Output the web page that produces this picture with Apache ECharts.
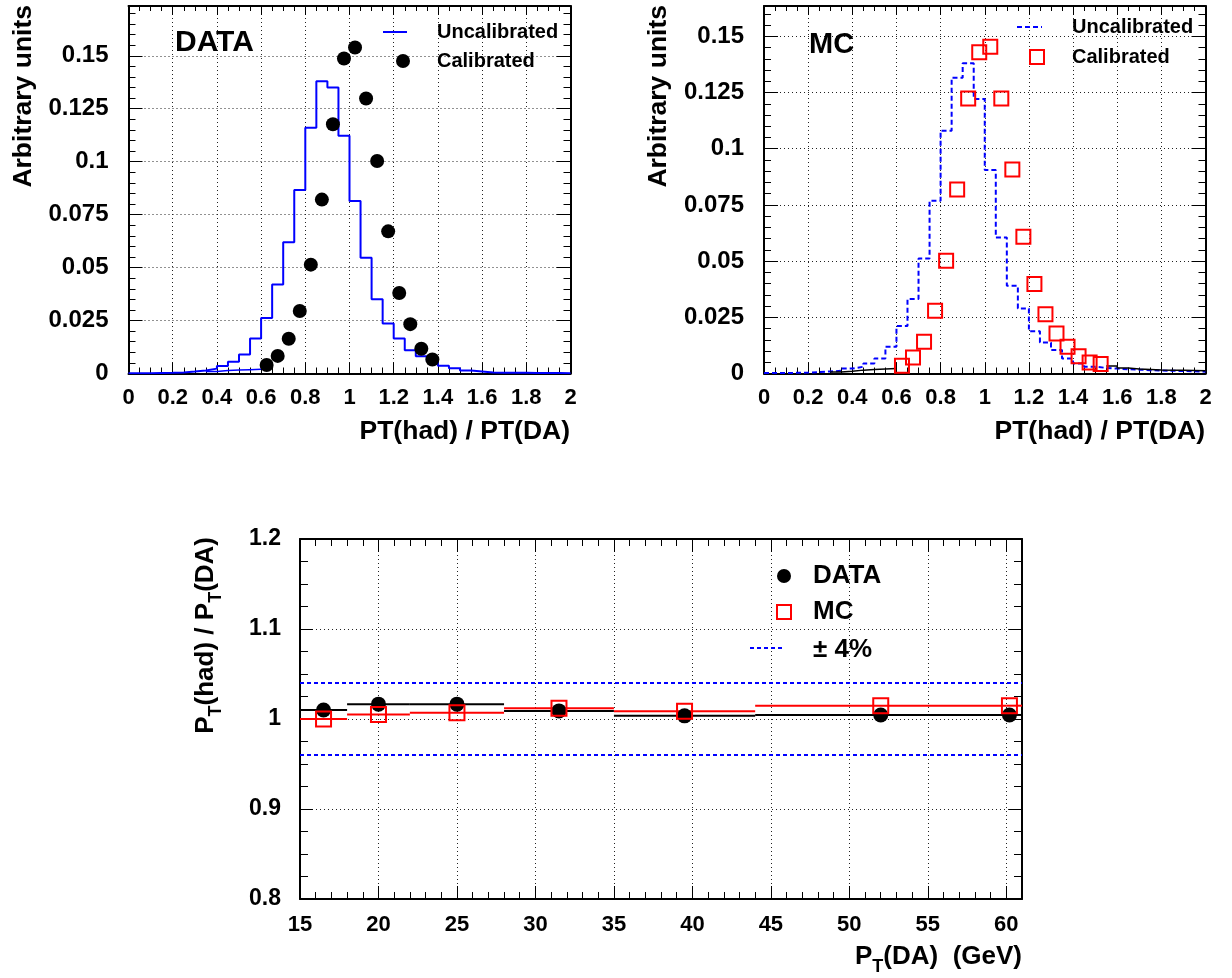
<!DOCTYPE html>
<html><head><meta charset="utf-8">
<script src="https://cdn.jsdelivr.net/npm/echarts@6/dist/echarts.min.js"></script>
<style>html,body{margin:0;padding:0;background:#fff}#c{width:1232px;height:978px}</style>
</head><body><div id="c"></div>
<script>
const FF = "'Liberation Sans', Arial, Helvetica, sans-serif";

// ---------- top panels: histogram bins (PT(had)/PT(DA), width 0.05) ----------
const binEdges = [0,0.05,0.1,0.15,0.2,0.25,0.3,0.35,0.4,0.45,0.5,0.55,0.6,0.65,0.7,0.75,0.8,0.85,0.9,0.95,
  1.0,1.05,1.1,1.15,1.2,1.25,1.3,1.35,1.4,1.45,1.5,1.55,1.6,1.65,1.7,1.75,1.8,1.85,1.9,1.95,2.0];

const dataUncal = [0.0001,0.0001,0.0002,0.0003,0.0005,0.0009,0.0014,0.0023,0.0035,0.0055,
  0.0090,0.0165,0.0262,0.0420,0.0620,0.0866,0.1160,0.1380,0.1350,0.1123,
  0.0814,0.0547,0.0350,0.0236,0.0165,0.0110,0.0082,0.0058,0.0036,0.0025,
  0.0014,0.0010,0.0005,0.0004,0.0003,0.0003,0.0002,0.0002,0.0002,0.0001];
const dataCalLow = [null,null,null,null,null,null,null,0.0010,0.0014,0.0016,
  0.0018,0.0020,null,null,null,null,null,null,null,null,
  null,null,null,null,null,null,null,null,null,null,
  null,null,null,null,null,null,null,null,null,null];
const dataCalX = [0.625,0.675,0.725,0.775,0.825,0.875,0.925,0.975,1.025,1.075,1.125,1.175,1.225,1.275,1.325,1.375];
const dataCalY = [0.0040,0.0083,0.0164,0.0295,0.0514,0.0821,0.1177,0.1487,0.1539,0.1298,0.1003,0.0671,0.0380,0.0233,0.0117,0.0066];

const mcUncal = [0.0002,0.0002,0.0003,0.0004,0.0006,0.0009,0.0012,0.0022,0.0030,0.0045,
  0.0067,0.0119,0.0211,0.0332,0.0512,0.0769,0.1080,0.1316,0.1380,0.1221,
  0.0905,0.0605,0.0390,0.0289,0.0188,0.0138,0.0104,0.0067,0.0045,0.0030,
  0.0025,0.0022,0.0019,0.0017,0.0015,0.0013,0.0012,0.0011,0.0010,0.0008];
const mcCalTail = [null,null,null,null,null,null,0.0007,0.0010,0.0015,0.0018,
  0.0020,0.0022,null,null,null,null,null,null,null,null,
  null,null,null,null,null,null,null,null,null,null,
  null,0.0033,0.0024,0.0020,0.0018,0.0016,0.0015,0.0014,0.0013,0.0012];
const mcCalX = [0.625,0.675,0.725,0.775,0.825,0.875,0.925,0.975,1.025,1.075,1.125,1.175,1.225,1.275,1.325,1.375,1.425,1.475,1.525];
const mcCalY = [0.0034,0.0071,0.0141,0.0279,0.0502,0.0819,0.1223,0.1429,0.1454,0.1223,0.0908,0.0608,0.0398,0.0264,0.0178,0.0119,0.0077,0.0049,0.0042];

// ---------- bottom panel: response vs PT(DA) ----------
const ptBinLow  = [15, 18, 22, 28, 35, 44, 60];
const ptBinHigh = [18, 22, 28, 35, 44, 60, 61];
const ptDataX = [16.5, 20.0, 25.0, 31.5, 39.5, 52.0, 60.2];
const ptDataY = [1.010, 1.0165, 1.0165, 1.009, 1.0035, 1.0045, 1.0045];
const ptMcX   = [16.5, 20.0, 25.0, 31.5, 39.5, 52.0, 60.2];
const ptMcY   = [1.000, 1.005, 1.007, 1.012, 1.0085, 1.0148, 1.0148];
const bandLevels = [1.04, 0.96];
const ptRange = [15, 61];

// ---------- helpers ----------
function stepData(edges, vals) {
  const out = [];
  let i = 0;
  while (i < vals.length) {
    if (vals[i] == null) { i++; continue; }
    let j = i;
    while (j < vals.length && vals[j] != null) { out.push([edges[j], vals[j]]); j++; }
    out.push([edges[j], vals[j - 1]]);
    out.push([edges[j], null]);
    i = j;
  }
  return out;
}
const zip = (a, b) => a.map((v, k) => [v, b[k]]);

const xAxes = [], yAxes = [];
function addAxes(arr, grid, isX, c) {
  const pA = isX ? 'bottom' : 'left', pB = isX ? 'top' : 'right';
  const idx = arr.length;
  const base = { type: 'value', gridIndex: grid, min: c.min, max: c.max, silent: true };
  arr.push(Object.assign({}, base, {
    position: pA, interval: c.major,
    axisLine: { show: true, onZero: false, lineStyle: { color: '#000', width: 2 } },
    axisTick: { show: true, inside: true, length: c.majorLen, lineStyle: { color: '#000', width: 1 } },
    axisLabel: { show: true, showMinLabel: true, showMaxLabel: c.showMax, margin: c.margin, color: '#000',
      fontFamily: FF, fontWeight: 'bold', fontSize: c.fs },
    splitLine: { show: true, lineStyle: { color: '#222', width: 1, type: [1, 3] } }
  }));
  arr.push(Object.assign({}, base, {
    position: pA, interval: c.minor,
    axisLine: { show: false, onZero: false },
    axisTick: { show: true, inside: true, length: c.minorLen, lineStyle: { color: '#000', width: 1 } },
    axisLabel: { show: false }, splitLine: { show: false }
  }));
  arr.push(Object.assign({}, base, {
    position: pB, interval: c.major,
    axisLine: { show: true, onZero: false, lineStyle: { color: '#000', width: 2 } },
    axisTick: { show: true, inside: true, length: c.majorLen2 || c.majorLen, lineStyle: { color: '#000', width: 1 } },
    axisLabel: { show: false }, splitLine: { show: false }
  }));
  arr.push(Object.assign({}, base, {
    position: pB, interval: c.minor,
    axisLine: { show: false, onZero: false },
    axisTick: { show: true, inside: true, length: c.minorLen2 || c.minorLen, lineStyle: { color: '#000', width: 1 } },
    axisLabel: { show: false }, splitLine: { show: false }
  }));
  return idx;
}

const grids = [
  { left: 128.5, top: 6, width: 442, height: 367.5 },
  { left: 764, top: 6, width: 441.5, height: 367.5 },
  { left: 300, top: 539, width: 722, height: 360 }
].map(g => Object.assign(g, { containLabel: false, outerBoundsMode: 'none' }));

const xTop = { min: 0, max: 2, major: 0.2, minor: 0.05, majorLen: 11, minorLen: 6, majorLen2: 9, minorLen2: 5, showMax: true, margin: 13, fs: 22 };
const x0 = addAxes(xAxes, 0, true, xTop);
const y0 = addAxes(yAxes, 0, false, { min: 0, max: 0.1735, major: 0.025, minor: 0.005, majorLen: 14, minorLen: 7, showMax: false, margin: 20, fs: 24 });
const x1 = addAxes(xAxes, 1, true, xTop);
const y1 = addAxes(yAxes, 1, false, { min: 0, max: 0.1635, major: 0.025, minor: 0.005, majorLen: 14, minorLen: 7, showMax: false, margin: 20, fs: 24 });
const x2 = addAxes(xAxes, 2, true, { min: ptRange[0], max: ptRange[1], major: 5, minor: 1, majorLen: 13, minorLen: 7, showMax: false, margin: 15, fs: 22 });
const y2 = addAxes(yAxes, 2, false, { min: 0.8, max: 1.2, major: 0.1, minor: 0.025, majorLen: 13, minorLen: 8, showMax: true, margin: 19, fs: 23 });

function hist(name, xi, yi, edges, vals, color, width, dash, z) {
  return { type: 'line', name, xAxisIndex: xi, yAxisIndex: yi, data: stepData(edges, vals), step: 'end',
    showSymbol: false, symbol: 'none', connectNulls: false, silent: true, z: z,
    lineStyle: { color, width, type: dash || 'solid' } };
}
function errBars(name, lo, hi, ys, color, z) {
  return { type: 'custom', name, xAxisIndex: x2, yAxisIndex: y2, silent: true, z: z, clip: true,
    data: lo.map((l, k) => [l, hi[k], ys[k]]),
    encode: { x: [0, 1], y: 2 },
    renderItem: (params, api) => {
      const y = api.value(2);
      const a = api.coord([api.value(0), y]), b = api.coord([api.value(1), y]);
      return { type: 'line', shape: { x1: a[0], y1: a[1], x2: b[0], y2: b[1] }, style: { stroke: color, lineWidth: 2 } };
    } };
}
const dot = { color: '#000', opacity: 1 };
const openSq = { color: 'rgba(0,0,0,0)', borderColor: '#ff0000', borderWidth: 2, opacity: 1 };

const series = [
  hist('Uncalibrated', x0, y0, binEdges, dataUncal, '#0000ff', 2, null, 3),
  hist('CalibratedTail', x0, y0, binEdges, dataCalLow, '#0000ff', 1.5, null, 3),
  { type: 'scatter', name: 'Calibrated', xAxisIndex: x0, yAxisIndex: y0, data: zip(dataCalX, dataCalY),
    symbol: 'circle', symbolSize: 14, itemStyle: dot, silent: true, z: 5 },

  hist('MC Uncalibrated', x1, y1, binEdges, mcUncal, '#0000ff', 2, [5, 3], 3),
  hist('MC CalibratedTail', x1, y1, binEdges, mcCalTail, '#000', 1.5, null, 3),
  { type: 'scatter', name: 'MC Calibrated', xAxisIndex: x1, yAxisIndex: y1, data: zip(mcCalX, mcCalY),
    symbol: 'rect', symbolSize: 14, silent: true, z: 5, itemStyle: openSq },

  ...bandLevels.map((lv, k) => ({ type: 'line', name: 'band' + k, xAxisIndex: x2, yAxisIndex: y2,
    data: [[ptRange[0], lv], [ptRange[1], lv]], showSymbol: false, symbol: 'none', silent: true, z: 2,
    lineStyle: { color: '#0000ff', width: 2, type: [4, 3] } })),
  errBars('DATA err', ptBinLow, ptBinHigh, ptDataY, '#000', 3),
  errBars('MC err', ptBinLow, ptBinHigh, ptMcY, '#ff0000', 4),
  { type: 'scatter', name: 'DATA', xAxisIndex: x2, yAxisIndex: y2, data: zip(ptDataX, ptDataY),
    symbol: 'circle', symbolSize: 15, itemStyle: dot, silent: true, z: 5 },
  { type: 'scatter', name: 'MC', xAxisIndex: x2, yAxisIndex: y2, data: zip(ptMcX, ptMcY),
    symbol: 'rect', symbolSize: 15, silent: true, z: 6, itemStyle: openSq }
];

const B = (s) => 'bold ' + s + 'px ' + FF;
function txt(x, y, text, size, align, extra) {
  return Object.assign({ type: 'text', x, y, silent: true, z: 100,
    style: { text, font: B(size), fill: '#000', textAlign: align || 'left', textVerticalAlign: 'middle' } }, extra || {});
}
const richSub = {
  n: { fontFamily: FF, fontWeight: 'bold', fontSize: 26, color: '#000' },
  s: { fontFamily: FF, fontWeight: 'bold', fontSize: 18, color: '#000', padding: [20, 0, 0, 0] }
};

const graphic = [
  // top-left panel
  txt(175, 43, 'DATA', 30),
  { type: 'line', silent: true, z: 100, shape: { x1: 383, y1: 32, x2: 407, y2: 32 }, style: { stroke: '#0000ff', lineWidth: 2 } },
  txt(437, 32, 'Uncalibrated', 20),
  { type: 'circle', silent: true, z: 100, shape: { cx: 403, cy: 61, r: 7 }, style: { fill: '#000' } },
  txt(437, 61, 'Calibrated', 20),
  txt(570, 432, 'PT(had) / PT(DA)', 26.5, 'right'),
  txt(24, 5, 'Arbitrary units', 26.5, 'right', { rotation: Math.PI / 2 }),
  // top-right panel
  txt(809, 45, 'MC', 29),
  { type: 'line', silent: true, z: 100, shape: { x1: 1017, y1: 27, x2: 1042, y2: 27 }, style: { stroke: '#0000ff', lineWidth: 2, lineDash: [5, 3] } },
  txt(1072, 27, 'Uncalibrated', 20),
  { type: 'rect', silent: true, z: 100, shape: { x: 1030, y: 50, width: 14, height: 14 }, style: { fill: 'none', stroke: '#ff0000', lineWidth: 2 } },
  txt(1072, 57, 'Calibrated', 20),
  txt(1205, 432, 'PT(had) / PT(DA)', 26.5, 'right'),
  txt(659, 5, 'Arbitrary units', 26.5, 'right', { rotation: Math.PI / 2 }),
  // bottom panel legend
  { type: 'circle', silent: true, z: 100, shape: { cx: 784, cy: 576, r: 7 }, style: { fill: '#000' } },
  txt(813, 576, 'DATA', 26),
  { type: 'rect', silent: true, z: 100, shape: { x: 777, y: 605, width: 14, height: 14 }, style: { fill: 'none', stroke: '#ff0000', lineWidth: 2 } },
  txt(813, 612, 'MC', 26),
  { type: 'line', silent: true, z: 100, shape: { x1: 750, y1: 648, x2: 785, y2: 648 }, style: { stroke: '#0000ff', lineWidth: 2, lineDash: [4, 3] } },
  txt(813, 650, '± 4%', 26),
  // bottom axis titles
  { type: 'text', x: 1022, y: 957, silent: true, z: 100,
    style: { text: '{n|P}{s|T}{n|(DA)  (GeV)}', rich: richSub, textAlign: 'right', textVerticalAlign: 'middle' } },
  { type: 'text', x: 206, y: 537, rotation: Math.PI / 2, silent: true, z: 100,
    style: { text: '{n|P}{s|T}{n|(had) / P}{s|T}{n|(DA)}', rich: richSub, textAlign: 'right', textVerticalAlign: 'middle' } }
];

const chart = echarts.init(document.getElementById('c'), null, { renderer: 'canvas' });
chart.setOption({
  animation: false,
  backgroundColor: '#fff',
  grid: grids,
  xAxis: xAxes,
  yAxis: yAxes,
  series,
  graphic
});
</script></body></html>
